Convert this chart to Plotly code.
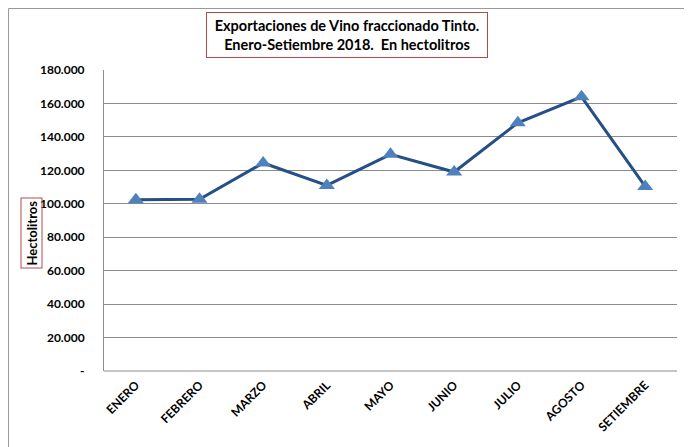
import plotly.graph_objects as go

meses = ["ENERO", "FEBRERO", "MARZO", "ABRIL", "MAYO", "JUNIO", "JULIO", "AGOSTO", "SETIEMBRE"]
hectolitros = [102400, 102700, 124400, 111000, 129600, 119000, 148400, 164000, 110400]
y_tickvals = [0, 20000, 40000, 60000, 80000, 100000, 120000, 140000, 160000, 180000]
y_ticktext = ["-", "20.000", "40.000", "60.000", "80.000", "100.000", "120.000", "140.000", "160.000", "180.000"]

FONT = "Lato"
BORDER = dict(color="#999999", width=1)

fig = go.Figure()
fig.add_trace(go.Scatter(
    x=meses, y=hectolitros, mode="lines+markers",
    line=dict(color="#264f85", width=3),
    marker=dict(symbol="triangle-up", size=14, color="#4f81bd"),
    showlegend=False, hoverinfo="skip",
))

# page body has an 8px margin, so the figure is drawn 8px smaller and offset
fig.update_layout(
    width=684, height=439,
    margin=dict(l=96, r=15, t=62, b=76),
    paper_bgcolor="white", plot_bgcolor="white",
    font=dict(family=FONT, color="black"),
    xaxis=dict(
        type="category", range=[-0.5, 8.5], showgrid=False, automargin=False,
        showline=False, ticks="", tickangle=-45,
        tickfont=dict(family=FONT, size=12, color="black", weight="bold"),
        ticklabelstandoff=4,
    ),
    yaxis=dict(
        range=[0, 180000], tickvals=y_tickvals, ticktext=y_ticktext, automargin=False,
        showgrid=True, gridcolor="#8c8c8c", gridwidth=1,
        showline=True, linecolor="#8c8c8c", linewidth=1, zeroline=False,
        tickfont=dict(family=FONT, size=12, color="black", weight="bold"),
        ticks="", ticklabelstandoff=16,
    ),
    shapes=[
        dict(type="line", xref="paper", yref="paper", x0=0, x1=1, y0=0, y1=0,
             line=dict(color="#8c8c8c", width=1)),
        dict(type="line", xref="paper", yref="paper", x0=-0.1667, x1=-0.1667, y0=-0.26, y1=1.2043, line=BORDER),
        dict(type="line", xref="paper", yref="paper", x0=-0.1667, x1=1.0227, y0=1.2043, y1=1.2043, line=BORDER),
        dict(type="line", xref="paper", yref="paper", x0=1.0227, x1=1.0227, y0=-0.26, y1=1.2043,
             line=dict(color="#d0d0d0", width=1)),
    ],
    annotations=[
        dict(text="<b>Exportaciones de Vino fraccionado Tinto.<br>Enero-Setiembre 2018.  En hectolitros</b>",
             xref="paper", yref="paper", x=(347 - 104) / 573, y=(371 - 35) / 301,
             xanchor="center", yanchor="middle", showarrow=False,
             font=dict(family=FONT, size=14.5, color="black"),
             bordercolor="#b24a4a", borderwidth=1, borderpad=4, bgcolor="white",
             width=272, align="center"),
        dict(text="<b>Hectolitros</b>", textangle=-90,
             xref="paper", yref="paper", x=(31.5 - 104) / 573, y=(371 - 233) / 301,
             xanchor="center", yanchor="middle", showarrow=False,
             font=dict(family=FONT, size=13, color="black"),
             bordercolor="#b24a4a", borderwidth=1, borderpad=2),
    ],
)

fig.write_html("out.html")
